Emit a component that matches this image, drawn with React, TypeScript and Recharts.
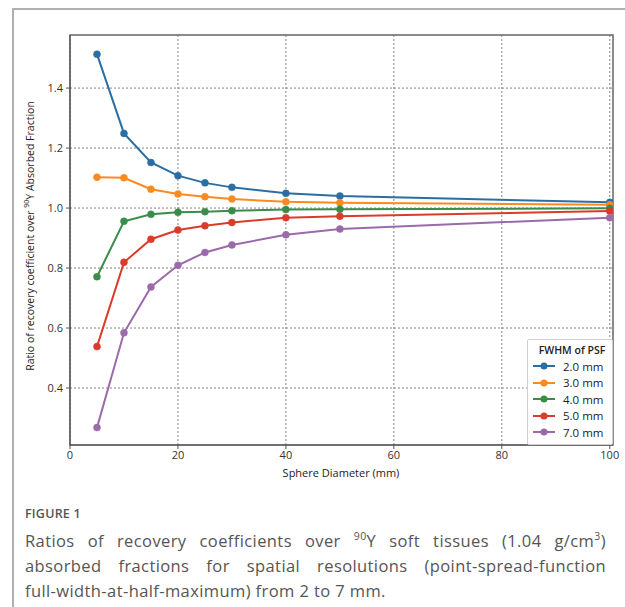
import {
  LineChart,
  Line,
  XAxis,
  YAxis,
  CartesianGrid,
  ReferenceArea,
} from "recharts";

// sphere diameters (mm)
const diameters = [5, 10, 15, 20, 25, 30, 40, 50, 100];

// ratio values per PSF FWHM
const fwhm2 = [1.513, 1.249, 1.152, 1.108, 1.084, 1.069, 1.049, 1.04, 1.019];
const fwhm3 = [1.103, 1.101, 1.063, 1.047, 1.038, 1.03, 1.021, 1.018, 1.011];
const fwhm4 = [0.771, 0.956, 0.979, 0.986, 0.988, 0.991, 0.995, 0.996, 0.999];
const fwhm5 = [0.538, 0.819, 0.896, 0.927, 0.941, 0.952, 0.968, 0.973, 0.99];
const fwhm7 = [0.268, 0.584, 0.737, 0.809, 0.852, 0.877, 0.911, 0.93, 0.968];

const seriesNames = ["2.0 mm", "3.0 mm", "4.0 mm", "5.0 mm", "7.0 mm"];
const seriesValues = [fwhm2, fwhm3, fwhm4, fwhm5, fwhm7];
const colors = ["#2a6ea3", "#fb8a1f", "#3a8c4b", "#db3b2b", "#9a6aaa"];

const xTicks = [0, 20, 40, 60, 80, 100];
const yTicks = [0.4, 0.6, 0.8, 1.0, 1.2, 1.4];

const chartFont = "'Open Sans', sans-serif";

type RowType = { d: number; [key: string]: number };

const data: RowType[] = diameters.map((d, i) => {
  const row: RowType = { d };
  seriesNames.forEach((name, s) => {
    row[name] = seriesValues[s][i];
  });
  return row;
});

// legend drawn as an overlay so it doesn't eat plot space
function LegendBox() {
  return (
    <div
      style={{
        position: "absolute",
        left: 527,
        top: 339,
        width: 80,
        background: "#fff",
        border: "1px solid #cfcfcf",
        borderRadius: 2,
        padding: "2px 0 3px 4px",
        fontFamily: chartFont,
        color: "#222",
        whiteSpace: "nowrap",
      }}
    >
      <div style={{ fontSize: 10.5, fontWeight: 600, textAlign: "center", lineHeight: "16px" }}>
        FWHM of PSF
      </div>
      {seriesNames.map((name, i) => (
        <div key={name} style={{ display: "flex", alignItems: "center", height: 16.5 }}>
          <svg width={24} height={10} style={{ marginRight: 7 }}>
            <line x1={1} y1={5} x2={23} y2={5} stroke={colors[i]} strokeWidth={2} />
            <circle cx={12} cy={5} r={3.5} fill={colors[i]} />
          </svg>
          <span style={{ fontSize: 11.5 }}>{name}</span>
        </div>
      ))}
    </div>
  );
}

export default function App() {
  return (
    <div style={{ position: "absolute", left: 0, top: 0, width: 625, height: 607, background: "#fff" }}>
      {/* figure frame */}
      <div
        style={{
          position: "absolute",
          left: 12,
          top: 8,
          right: 0,
          bottom: 0,
          borderLeft: "2px solid #b0b0b0",
          borderTop: "2px solid #b0b0b0",
        }}
      />
      <div style={{ position: "absolute", left: 0, top: 0 }}>
        <LineChart
          width={625}
          height={480}
          data={data}
          margin={{ top: 35, right: 12, left: 0, bottom: 0 }}
        >
          <CartesianGrid
            stroke="#8c8282"
            strokeDasharray="2 2"
            horizontalValues={yTicks}
            verticalValues={xTicks}
          />
          <XAxis
            dataKey="d"
            type="number"
            domain={[0, 100.6]}
            ticks={xTicks}
            allowDataOverflow
            height={35}
            tickSize={4}
            tickMargin={2}
            stroke="#555"
            tick={{ fill: "#333", fontSize: 11, fontFamily: chartFont }}
            label={{
              content: () => (
                <text
                  x={341}
                  y={477}
                  textAnchor="middle"
                  fontSize={11}
                  fontWeight={500}
                  fontFamily={chartFont}
                  fill="#222"
                >
                  Sphere Diameter (mm)
                </text>
              ),
            }}
          />
          <YAxis
            type="number"
            domain={[0.21, 1.577]}
            ticks={yTicks}
            allowDataOverflow
            width={70}
            tickSize={4}
            tickMargin={3}
            stroke="#555"
            tickFormatter={(v: number) => v.toFixed(1)}
            tick={{ fill: "#333", fontSize: 11, fontFamily: chartFont }}
            label={{
              content: () => (
                <text
                  x={31}
                  y={236}
                  transform="rotate(-90, 31, 236)"
                  textAnchor="middle"
                  dominantBaseline="middle"
                  fontSize={10.5}
                  fontWeight={500}
                  fontFamily={chartFont}
                  fill="#222"
                >
                  Ratio of recovery coefficient over{" "}
                  <tspan fontSize={7} dy={-4}>90</tspan>
                  <tspan dy={4}>Y Absorbed Fraction</tspan>
                </text>
              ),
            }}
          />
          <ReferenceArea
            x1={0}
            x2={100.6}
            y1={0.21}
            y2={1.577}
            fill="none"
            stroke="#666"
            strokeWidth={1.5}
            ifOverflow="extendDomain"
          />
          {seriesNames.map((name, i) => (
            <Line
              key={name}
              type="linear"
              dataKey={name}
              stroke={colors[i]}
              strokeWidth={2}
              dot={{ r: 3.5, fill: colors[i], stroke: colors[i], strokeWidth: 0.5 }}
              activeDot={false}
              isAnimationActive={false}
            />
          ))}
        </LineChart>
        <LegendBox />
      </div>
      {/* caption */}
      <div
        style={{
          position: "absolute",
          left: 25,
          top: 505,
          width: 581,
          fontFamily: "'Open Sans', sans-serif",
          color: "#555",
        }}
      >
        <div style={{ fontSize: 12.5, fontWeight: 600, letterSpacing: 0.2, marginBottom: 2, color: "#555" }}>
          FIGURE 1
        </div>
        <div style={{ fontSize: 16.5, lineHeight: "25px", letterSpacing: 0.4 }}>
          <div style={{ textAlign: "justify", textAlignLast: "justify" }}>
            Ratios of recovery coefficients over <sup style={{ fontSize: 10.5 }}>90</sup>Y soft tissues (1.04 g/cm
            <sup style={{ fontSize: 10.5 }}>3</sup>)
          </div>
          <div style={{ textAlign: "justify", textAlignLast: "justify" }}>
            absorbed fractions for spatial resolutions (point-spread-function
          </div>
          <div>full-width-at-half-maximum) from 2 to 7 mm.</div>
        </div>
      </div>
    </div>
  );
}
